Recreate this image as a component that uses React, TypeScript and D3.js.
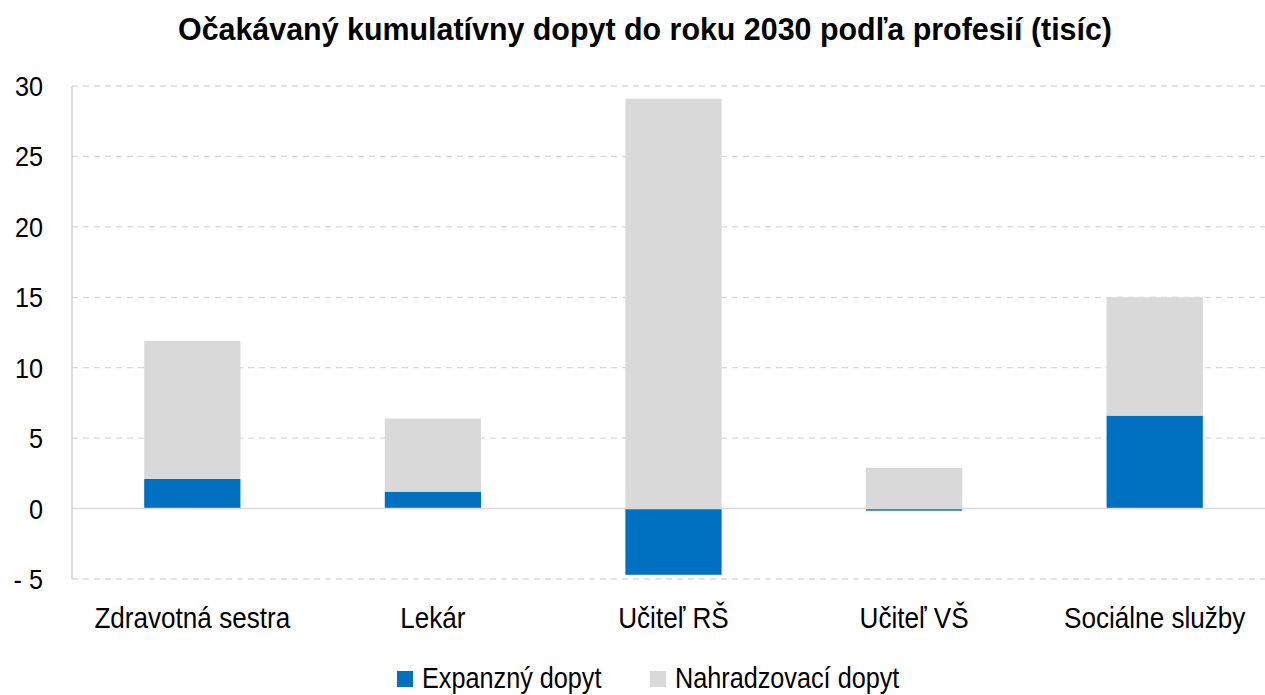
import * as d3 from "d3";
import React from "react";

const categories = ["Zdravotná sestra", "Lekár", "Učiteľ RŠ", "Učiteľ VŠ", "Sociálne služby"];
const expanzny = [2.1, 1.2, -4.7, -0.15, 6.6];
const nahradzovaci = [9.8, 5.2, 29.1, 2.9, 8.4];
const yTicks = [-5, 0, 5, 10, 15, 20, 25, 30];
const seriesNames = ["Expanzný dopyt", "Nahradzovací dopyt"];
const seriesColors = ["#0070C0", "#D9D9D9"];

const W = 1265;
const H = 695;
const FONT = "'Liberation Sans', Arial, sans-serif";

// narrow text (the original uses a condensed Arial look)
const Txt = ({ x, y, size, sx = 0.88, anchor = "start", bold = false, children }: any) => (
  <text
    transform={`translate(${x},${y}) scale(${sx},1)`}
    textAnchor={anchor}
    fontSize={size}
    fontWeight={bold ? "bold" : "normal"}
    fill="#000"
  >
    {children}
  </text>
);

export default function App() {
  const left = 72;
  const x = d3
    .scaleBand()
    .domain(categories)
    .range([left, 1275])
    .paddingInner(0.6)
    .paddingOuter(0.3);
  const y = d3.scaleLinear().domain([-5, 30]).range([579, 86]);

  const rects: { key: string; x: number; y0: number; y1: number; fill: string }[] = [];
  categories.forEach((c, i) => {
    // stacked like Excel: positives stack above 0, negatives below
    let pos = 0;
    let neg = 0;
    [expanzny[i], nahradzovaci[i]].forEach((v, j) => {
      if (v >= 0) {
        rects.push({ key: c + j, x: x(c)!, y0: pos, y1: pos + v, fill: seriesColors[j] });
        pos += v;
      } else {
        rects.push({ key: c + j, x: x(c)!, y0: neg + v, y1: neg, fill: seriesColors[j] });
        neg += v;
      }
    });
  });

  const fmt = (t: number) => (t < 0 ? `- ${Math.abs(t)}` : `${t}`);

  return (
    <svg width={W} height={H} style={{ position: "absolute", left: 0, top: 0, fontFamily: FONT }}>
      <rect width={W} height={H} fill="#fff" />
      <text
        x={178}
        y={40}
        fontSize={31}
        fontWeight="bold"
        fill="#000"
        textLength={934}
        lengthAdjust="spacingAndGlyphs"
      >
        Očakávaný kumulatívny dopyt do roku 2030 podľa profesií (tisíc)
      </text>

      {yTicks
        .filter((t) => t !== 0)
        .map((t) => (
          <line
            key={t}
            x1={left}
            x2={W}
            y1={y(t)}
            y2={y(t)}
            stroke="#D9D9D9"
            strokeWidth={1.3}
            strokeDasharray="6,5"
          />
        ))}

      {rects.map((r) => (
        <rect
          key={r.key}
          x={r.x}
          width={x.bandwidth()}
          y={y(r.y1)}
          height={Math.max(1.5, y(r.y0) - y(r.y1))}
          fill={r.fill}
        />
      ))}

      <line x1={left} x2={W} y1={y(0)} y2={y(0)} stroke="#D9D9D9" strokeWidth={1.5} />
      <line x1={left} x2={left} y1={y(30)} y2={y(-5)} stroke="#D0D0D0" strokeWidth={1.5} />

      {yTicks.map((t) => (
        <Txt key={t} x={43} y={y(t) + 10} size={28} sx={0.9} anchor="end">
          {fmt(t)}
        </Txt>
      ))}

      {categories.map((c) => (
        <Txt key={c} x={x(c)! + x.bandwidth() / 2} y={628} size={29} sx={0.9} anchor="middle">
          {c}
        </Txt>
      ))}

      {seriesNames.map((s, i) => {
        const lx = i === 0 ? 397 : 650;
        return (
          <g key={s}>
            <rect x={lx} y={671} width={16} height={16} fill={seriesColors[i]} />
            <Txt x={lx + 25} y={688} size={29} sx={0.87}>
              {s}
            </Txt>
          </g>
        );
      })}
    </svg>
  );
}
